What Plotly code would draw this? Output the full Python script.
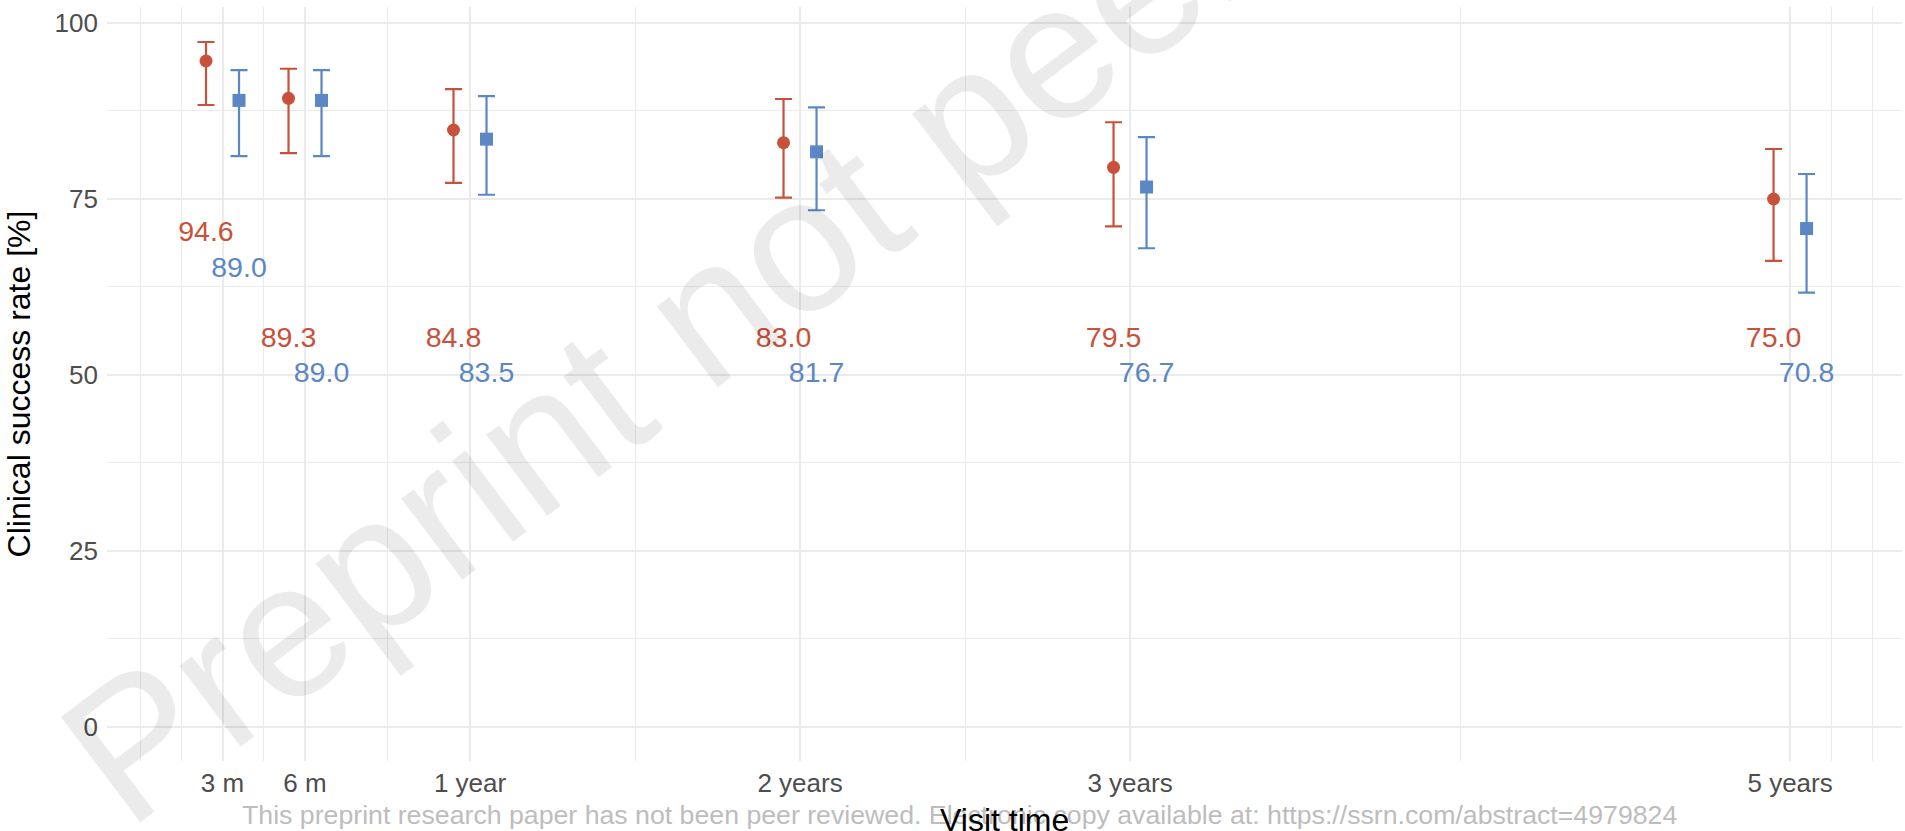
import plotly.graph_objects as go

# Visit schedule (months) and axis labels
visit_months = [3, 6, 12, 24, 36, 60]
visit_labels = ["3 m", "6 m", "1 year", "2 years", "3 years", "5 years"]

# Clinical success rate [%] with 95% CI, group 1
rate_g1 = [94.6, 89.3, 84.8, 83.0, 79.5, 75.0]
lower_g1 = [88.35, 81.5, 77.3, 75.2, 71.1, 66.2]
upper_g1 = [97.3, 93.5, 90.6, 89.2, 85.9, 82.1]

# Clinical success rate [%] with 95% CI, group 2
rate_g2 = [89.0, 89.0, 83.5, 81.7, 76.7, 70.8]
lower_g2 = [81.1, 81.1, 75.6, 73.4, 68.0, 61.7]
upper_g2 = [93.3, 93.3, 89.6, 88.0, 83.8, 78.55]

# Where the value labels sit on the y scale
label_y_g1 = [70, 55, 55, 55, 55, 55]
label_y_g2 = [65, 50, 50, 50, 50, 50]

RED = "#C8513B"
BLUE = "#5B87C5"
GRID = "#EBEBEB"
FONT = "Liberation Sans, Arial, sans-serif"
DODGE = 0.6

x_g1 = [m - DODGE for m in visit_months]
x_g2 = [m + DODGE for m in visit_months]

fig = go.Figure()


def add_group(xs, rate, lo, hi, color, symbol, size, name):
    fig.add_trace(go.Scatter(
        x=xs, y=rate, mode="markers", name=name,
        marker=dict(color=color, symbol=symbol, size=size, line=dict(width=0)),
        error_y=dict(type="data", symmetric=False,
                     array=[h - r for h, r in zip(hi, rate)],
                     arrayminus=[r - l for r, l in zip(rate, lo)],
                     color=color, thickness=2.2, width=8.5),
        showlegend=False, cliponaxis=False,
    ))


def add_labels(xs, ys, rate, color):
    fig.add_trace(go.Scatter(
        x=xs, y=ys, mode="text",
        text=[f"{v:.1f}" for v in rate],
        textposition="middle center",
        textfont=dict(family=FONT, size=28.5, color=color),
        showlegend=False, cliponaxis=False, hoverinfo="skip",
    ))


add_group(x_g1, rate_g1, lower_g1, upper_g1, RED, "circle", 13, "Group 1")
add_group(x_g2, rate_g2, lower_g2, upper_g2, BLUE, "square", 13, "Group 2")
add_labels(x_g1, label_y_g1, rate_g1, RED)
add_labels(x_g2, label_y_g2, rate_g2, BLUE)

fig.update_layout(
    width=1905, height=831,
    margin=dict(l=107, r=3, t=7, b=70),
    paper_bgcolor="white", plot_bgcolor="white",
    font=dict(family=FONT),
    xaxis=dict(
        range=[-1.2, 64.07], automargin=False,
        tickmode="array", tickvals=visit_months, ticktext=visit_labels,
        tickfont=dict(size=26, color="#4D4D4D"),
        showgrid=True, gridcolor=GRID, gridwidth=2.1,
        zeroline=False, showline=False, ticks="",
        minor=dict(tickmode="array",
                   tickvals=[0, 1.5, 4.5, 9, 18, 30, 48, 61.5, 63],
                   showgrid=True, gridcolor=GRID, gridwidth=1.1),
        ticklabelstandoff=4,
    ),
    yaxis=dict(
        range=[-4.83, 102.27], automargin=False,
        tickmode="array", tickvals=[0, 25, 50, 75, 100],
        tickfont=dict(size=26, color="#4D4D4D"),
        showgrid=True, gridcolor=GRID, gridwidth=2.1,
        zeroline=False, showline=False, ticks="",
        minor=dict(tickmode="array", tickvals=[12.5, 37.5, 62.5, 87.5],
                   showgrid=True, gridcolor=GRID, gridwidth=1.1),
        title=dict(text="Clinical success rate [%]", font=dict(size=32, color="black"), standoff=14),
        ticklabelstandoff=8,
    ),
)

# Preprint watermark across the panel
fig.add_annotation(
    text="Preprint not peer reviewed",
    xref="paper", yref="paper", x=0.49, y=0.875,
    xanchor="center", yanchor="middle",
    textangle=-37, showarrow=False,
    font=dict(family=FONT, size=192, color="rgba(0,0,0,0.08)"),
)

# Footer notice
fig.add_annotation(
    text="This preprint research paper has not been peer reviewed. Electronic copy available at: https://ssrn.com/abstract=4979824",
    xref="paper", yref="paper", x=0.475, y=-0.072,
    xanchor="center", yanchor="middle", showarrow=False,
    font=dict(family=FONT, size=26.7, color="#BDBDBD"),
)

# x-axis title, set just under the footer line
fig.add_annotation(
    text="Visit time",
    xref="paper", yref="paper", x=0.5, y=-0.0785,
    xanchor="center", yanchor="middle", showarrow=False,
    font=dict(family=FONT, size=32, color="black"),
)

fig.write_html("out.html")
